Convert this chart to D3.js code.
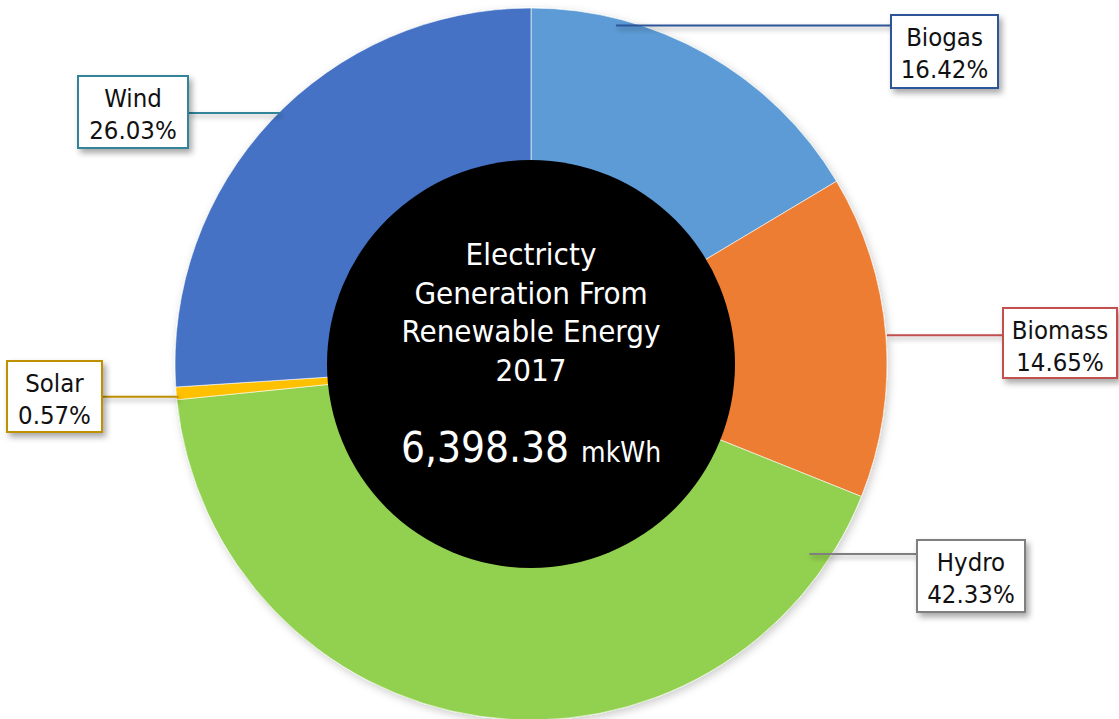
<!DOCTYPE html>
<html>
<head>
<meta charset="utf-8">
<script src="https://cdn.jsdelivr.net/npm/d3@7"></script>
<style>
  html, body { margin: 0; padding: 0; background: #fff; }
  svg { display: block; }
  text { font-family: "DejaVu Sans Condensed", "DejaVu Sans", sans-serif; }
</style>
</head>
<body>
<div id="root"></div>
<script>
// data
const sources = ['Biogas', 'Biomass', 'Hydro', 'Solar', 'Wind']
const shares = [16.42, 14.65, 42.33, 0.57, 26.03]
const titleLines = ['Electricty', 'Generation From', 'Renewable Energy', '2017']
const totalValue = '6,398.38'
const totalUnit = 'mkWh'

const fills = ['#5b9bd5', '#ed7d31', '#92d050', '#ffc000', '#4472c4']
const borders = ['#2f5597', '#c0504d', '#7f7f7f', '#bf9000', '#31849b']

// label boxes and leader start (angle in degrees from top, radius)
const boxes = [
  {x: 891, y: 15, w: 107, h: 73, a: 14.1, r: 349},
  {x: 1003, y: 308, w: 114, h: 70, a: 85.4, r: 357},
  {x: 917, y: 540, w: 108, h: 72, a: 124.3, r: 337},
  {x: 7, y: 361, w: 95, h: 71, a: 264.7, r: 354},
  {x: 78, y: 76, w: 110, h: 72, a: 315, r: 355}
]

const w = 1119, h = 719
const cx = 531, cy = 364, R = 356, r0 = 204

const svg = d3.select('#root').append('svg')
  .attr('width', w).attr('height', h)

const defs = svg.append('defs')
const f = defs.append('filter').attr('id', 'shadow')
  .attr('x', '-20%').attr('y', '-20%').attr('width', '150%').attr('height', '160%')
f.append('feDropShadow').attr('dx', 3).attr('dy', 4).attr('stdDeviation', 3)
  .attr('flood-color', '#000').attr('flood-opacity', 0.35)
// lines have a flat bbox, so their filter works in page units
const fl = defs.append('filter').attr('id', 'lineshadow')
  .attr('filterUnits', 'userSpaceOnUse')
  .attr('x', 0).attr('y', 0).attr('width', w).attr('height', h)
fl.append('feDropShadow').attr('dx', 2).attr('dy', 3).attr('stdDeviation', 2.5)
  .attr('flood-color', '#000').attr('flood-opacity', 0.35)
const f2 = defs.append('filter').attr('id', 'softshadow')
  .attr('x', '-10%').attr('y', '-10%').attr('width', '130%').attr('height', '130%')
f2.append('feDropShadow').attr('dx', 2).attr('dy', 3).attr('stdDeviation', 4)
  .attr('flood-color', '#000').attr('flood-opacity', 0.2)

const g = svg.append('g').attr('transform', `translate(${cx},${cy})`)

const pie = d3.pie().sort(null).value(d => d)
const arc = d3.arc().innerRadius(r0 - 2).outerRadius(R)

g.append('g').attr('filter', 'url(#softshadow)')
  .selectAll('path')
  .data(pie(shares))
  .enter()
  .append('path')
  .attr('d', arc)
  .attr('fill', (d, i) => fills[i])
  .attr('stroke', '#fff')
  .attr('stroke-width', 0.6)

// black center
g.append('circle').attr('r', r0).attr('fill', '#000')

// center text
const tlines = g.append('text')
  .attr('text-anchor', 'middle')
  .attr('fill', '#fff')
  .attr('font-size', 31)
titleLines.forEach((t, i) => {
  tlines.append('tspan').attr('x', 0).attr('y', -99 + i * 38.5).text(t)
})
const tot = g.append('text')
  .attr('text-anchor', 'middle')
  .attr('fill', '#fff')
  .attr('y', 98)
tot.append('tspan').attr('font-size', 42).text(totalValue + ' ')
tot.append('tspan').attr('font-size', 28).text(totalUnit)

// leader lines and label boxes
const rad = d => d * Math.PI / 180
const labels = svg.append('g')
boxes.forEach((b, i) => {
  const sx = cx + b.r * Math.sin(rad(b.a))
  const sy = cy - b.r * Math.cos(rad(b.a))
  const ex = b.x + b.w / 2 < cx ? b.x + b.w : b.x
  const ey = sy
  labels.append('line')
    .attr('x1', sx).attr('y1', sy).attr('x2', ex).attr('y2', ey)
    .attr('stroke', borders[i]).attr('stroke-width', 2)
    .attr('filter', 'url(#lineshadow)')
  labels.append('rect')
    .attr('x', b.x).attr('y', b.y).attr('width', b.w).attr('height', b.h)
    .attr('fill', '#fff').attr('stroke', borders[i]).attr('stroke-width', 2)
    .attr('filter', 'url(#shadow)')
  const t = labels.append('text')
    .attr('text-anchor', 'middle').attr('fill', '#111').attr('font-size', 25.5)
  t.append('tspan').attr('x', b.x + b.w / 2).attr('y', b.y + 31).text(sources[i])
  t.append('tspan').attr('x', b.x + b.w / 2).attr('y', b.y + 63)
    .text(d3.format('.2f')(shares[i]) + '%')
})
</script>
</body>
</html>
